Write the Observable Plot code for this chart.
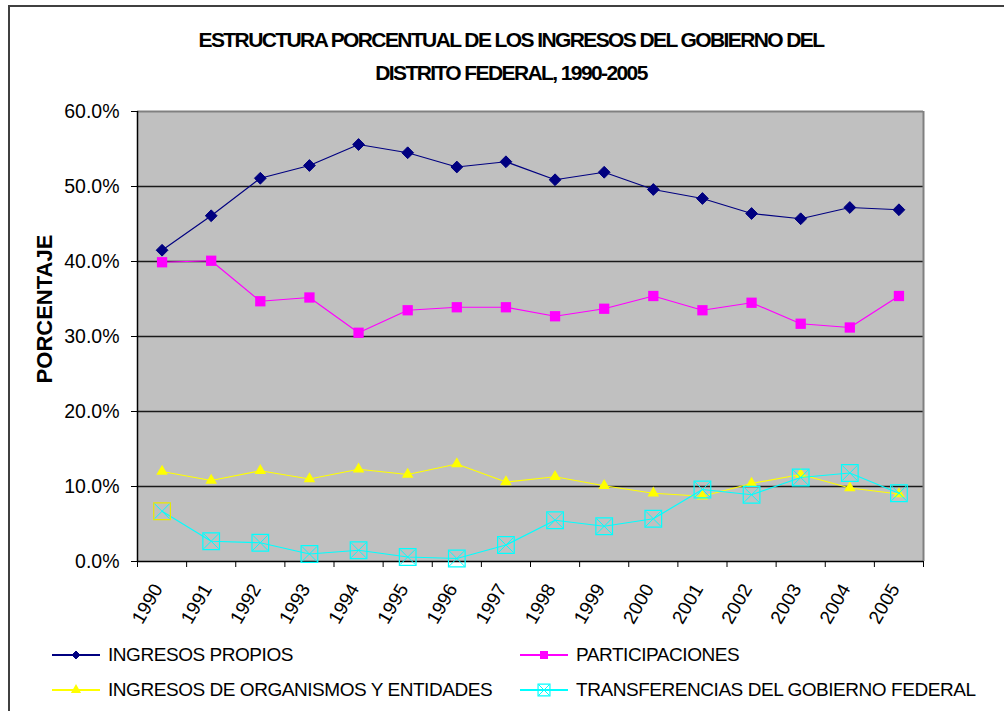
<!DOCTYPE html>
<html><head><meta charset="utf-8">
<script src="https://cdn.jsdelivr.net/npm/d3@7"></script>
<script src="https://cdn.jsdelivr.net/npm/@observablehq/plot@0.6"></script>
<style>
body{margin:0;background:#fff;font-family:"Liberation Sans",Arial,sans-serif;}
#wrap{position:relative;width:1004px;height:711px;overflow:hidden;background:#fff;}
#border{position:absolute;left:8px;top:5px;width:1020px;height:730px;border-left:2px solid #404040;border-top:2px solid #404040;box-sizing:border-box;}
.title{position:absolute;left:0;width:1022px;text-align:center;font-weight:bold;font-size:21px;line-height:21px;letter-spacing:-1.6px;color:#000;white-space:nowrap;}
#ylab{position:absolute;width:240px;text-align:center;font-weight:bold;font-size:22px;line-height:22px;left:-75px;top:298px;transform:rotate(-90deg);color:#000;}
#chart{position:absolute;left:0;top:95px;}
.leg{position:absolute;height:24px;display:flex;align-items:center;font-size:19px;letter-spacing:-0.45px;color:#000;white-space:nowrap;}
.leg svg{margin-right:6px;}
</style></head>
<body>
<div id="wrap">
  <div id="border"></div>
  <div class="title" style="top:29px">ESTRUCTURA PORCENTUAL DE LOS INGRESOS DEL GOBIERNO DEL</div>
  <div class="title" style="top:62px">DISTRITO FEDERAL, 1990-2005</div>
  <div id="ylab">PORCENTAJE</div>
  <div id="chart"></div>
  <div id="legend"></div>
</div>
<script>
// ---- data ----
const years = [1990,1991,1992,1993,1994,1995,1996,1997,1998,1999,2000,2001,2002,2003,2004,2005];
const ingresosPropios = [41.5,46.1,51.1,52.8,55.6,54.5,52.6,53.3,50.9,51.9,49.6,48.4,46.4,45.7,47.2,46.9];
const participaciones = [39.9,40.1,34.7,35.2,30.5,33.5,33.9,33.9,32.7,33.7,35.4,33.5,34.5,31.7,31.2,35.4];
const organismos = [12.0,10.8,12.1,11.0,12.3,11.6,13.0,10.6,11.3,10.1,9.1,8.7,10.4,11.6,9.8,9.0];
const transferencias = [6.7,2.7,2.5,1.0,1.5,0.6,0.4,2.2,5.5,4.7,5.7,9.6,8.9,11.2,11.8,9.1];
const yTicks = [0,10,20,30,40,50,60];
const seriesNames = ["INGRESOS PROPIOS","PARTICIPACIONES","INGRESOS DE ORGANISMOS Y ENTIDADES","TRANSFERENCIAS DEL GOBIERNO FEDERAL"];

const rows = years.map((year,i)=>({year, propios:ingresosPropios[i], part:participaciones[i], org:organismos[i], trans:transferencias[i]}));
const bounds = [years[0]-0.5, ...years.map(y=>y+0.5)];
const fmt = d => d.toFixed(1) + "%";

const NAVY="#000080", MAG="#ff00ff", YEL="#ffff00", CYAN="#00ffff";

const chart = Plot.plot({
  width: 1004, height: 545,
  marginTop: 16, marginLeft: 137, marginRight: 81, marginBottom: 79,
  style: {fontFamily: '"Liberation Sans", Arial, sans-serif', background: "transparent", color:"#000"},
  x: {type: "linear", domain: [bounds[0], bounds[bounds.length-1]]},
  y: {type: "linear", domain: [yTicks[0], yTicks[yTicks.length-1]]},
  marks: [
    Plot.frame({fill: "#c0c0c0", stroke: null}),
    Plot.ruleY(yTicks.slice(1, -1), {stroke: "#1a1a1a", strokeWidth: 1.3}),
    Plot.ruleY([yTicks[yTicks.length-1]], {stroke: "#808080", strokeWidth: 2}),
    Plot.ruleX([bounds[bounds.length-1]], {stroke: "#808080", strokeWidth: 2}),
    Plot.axisY({ticks: yTicks, tickFormat: fmt, tickSize: 6, tickPadding: 12, fontSize: 19.5, stroke: "#000", label: null}),
    Plot.axisX({ticks: bounds, tickFormat: () => "", tickSize: 6, stroke: "#000", label: null}),
    Plot.axisX({ticks: years, tickFormat: d => String(d), tickSize: 0, tickPadding: 24, tickRotate: -60, fontSize: 19, dx: -4, label: null}),
    Plot.ruleX([bounds[0]], {stroke: "#000", strokeWidth: 1.5}),
    Plot.ruleY([yTicks[0]], {stroke: "#000", strokeWidth: 1.5}),
    // series 1
    Plot.line(rows, {x: "year", y: "propios", stroke: NAVY, strokeWidth: 1.2}),
    Plot.dot(rows, {x: "year", y: "propios", symbol: "diamond2", fill: NAVY, stroke: NAVY, strokeWidth: 1, r: 5.3}),
    // series 2
    Plot.line(rows, {x: "year", y: "part", stroke: MAG, strokeWidth: 1.2}),
    Plot.dot(rows, {x: "year", y: "part", symbol: "square", fill: MAG, stroke: null, r: 5.8}),
    // series 3
    Plot.line(rows, {x: "year", y: "org", stroke: YEL, strokeWidth: 1.2}),
    Plot.dot(rows, {x: "year", y: "org", symbol: "triangle", fill: YEL, stroke: null, r: 4.3}),
    // series 4
    Plot.line(rows, {x: "year", y: "trans", stroke: CYAN, strokeWidth: 1.2}),
    Plot.dot(rows, {x: "year", y: "trans", symbol: "square2", fill: "none", stroke: d => d.year === years[0] ? "#e8e800" : CYAN, strokeWidth: 1.2, r: 10.6}),
    Plot.dot(rows, {x: "year", y: "trans", symbol: "times", stroke: CYAN, strokeWidth: 1, r: 6.9})
  ]
});
document.getElementById("chart").appendChild(chart);

// ---- legend ----
const legSpecs = [
  {name: seriesNames[0], color: NAVY, sym: d3.symbolDiamond2, size: 40, fill: NAVY, left: 52, top: 643},
  {name: seriesNames[1], color: MAG, sym: d3.symbolSquare, size: 64, fill: MAG, left: 520, top: 643},
  {name: seriesNames[2], color: YEL, sym: d3.symbolTriangle, size: 45, fill: YEL, left: 52, top: 678},
  {name: seriesNames[3], color: CYAN, sym: "box", size: 0, fill: "none", left: 520, top: 678}
];
const leg = document.getElementById("legend");
for (const s of legSpecs) {
  const div = document.createElement("div");
  div.className = "leg";
  div.style.left = s.left + "px";
  div.style.top = s.top + "px";
  const svg = d3.create("svg").attr("width", 50).attr("height", 24);
  svg.append("line").attr("x1", 0).attr("x2", 48).attr("y1", 12).attr("y2", 12).attr("stroke", s.color).attr("stroke-width", 2);
  if (s.sym === "box") {
    svg.append("path").attr("transform","translate(24,12)").attr("d", d3.symbol(d3.symbolSquare2, 180)()).attr("fill","none").attr("stroke", s.color).attr("stroke-width",1.2);
    svg.append("path").attr("transform","translate(24,12)").attr("d", d3.symbol(d3.symbolTimes, 70)()).attr("fill","none").attr("stroke", s.color).attr("stroke-width",1);
  } else {
    svg.append("path").attr("transform","translate(24,12)").attr("d", d3.symbol(s.sym, s.size)()).attr("fill", s.fill).attr("stroke", s.fill === NAVY ? NAVY : "none");
  }
  div.appendChild(svg.node());
  const span = document.createElement("span");
  span.textContent = s.name;
  div.appendChild(span);
  leg.appendChild(div);
}
</script>
</body></html>
